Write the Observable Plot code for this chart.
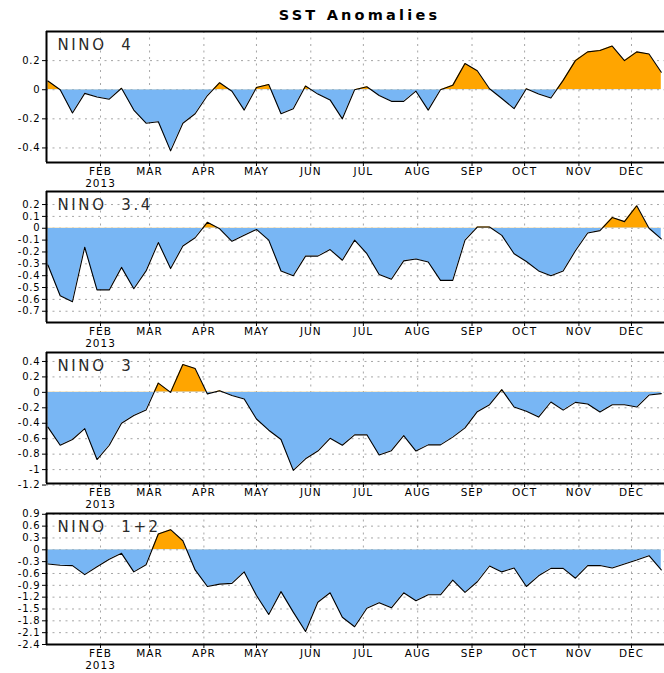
<!DOCTYPE html>
<html>
<head>
<meta charset="utf-8">
<script src="https://cdn.jsdelivr.net/npm/d3@7"></script>
<script src="https://cdn.jsdelivr.net/npm/@observablehq/plot@0.6"></script>
<style>
  html, body { margin: 0; padding: 0; background: #fff; }
  #wrap { position: relative; width: 664px; height: 673px; overflow: hidden; background: #fff; }
  #title { position: absolute; left: 0; width: 719px; top: 6px; text-align: center;
           font-family: "DejaVu Sans", sans-serif; font-weight: bold; font-size: 14.5px;
           letter-spacing: 3.2px; line-height: 18px; color: #000; }
  .panel { position: absolute; left: 0; }
  .panel svg { overflow: visible; background: transparent !important; }
  .panel g[aria-label="y-axis tick label"] text { letter-spacing: 0.8px; }
  .panel g[aria-label="x-axis tick label"] text { letter-spacing: 1px; }
  .panel g.yearlab text { letter-spacing: 1px; }
  .panel g.ninolab text { white-space: pre; letter-spacing: 2.6px; }
</style>
</head>
<body>
<div id="wrap">
  <div id="title">SST Anomalies</div>
</div>
<script>
// ---- data ----
const weeks = [
  "2013-01-02","2013-01-09","2013-01-16","2013-01-23","2013-01-30",
  "2013-02-06","2013-02-13","2013-02-20","2013-02-27",
  "2013-03-06","2013-03-13","2013-03-20","2013-03-27",
  "2013-04-03","2013-04-10","2013-04-17","2013-04-24",
  "2013-05-01","2013-05-08","2013-05-15","2013-05-22","2013-05-29",
  "2013-06-05","2013-06-12","2013-06-19","2013-06-26",
  "2013-07-03","2013-07-10","2013-07-17","2013-07-24","2013-07-31",
  "2013-08-07","2013-08-14","2013-08-21","2013-08-28",
  "2013-09-04","2013-09-11","2013-09-18","2013-09-25",
  "2013-10-02","2013-10-09","2013-10-16","2013-10-23","2013-10-30",
  "2013-11-06","2013-11-13","2013-11-20","2013-11-27",
  "2013-12-04","2013-12-11","2013-12-18"
];
const nino4 = [0.06, 0.0, -0.16, -0.025, -0.05, -0.065, 0.01, -0.14, -0.23, -0.22,
  -0.42, -0.23, -0.165, -0.04, 0.048, -0.01, -0.14, 0.015, 0.036, -0.165,
  -0.13, 0.025, -0.03, -0.07, -0.2, 0.0, 0.02, -0.04, -0.08, -0.08,
  -0.01, -0.14, 0.0, 0.03, 0.18, 0.13, 0.007, -0.06, -0.13, 0.007,
  -0.03, -0.057, 0.064, 0.2, 0.26, 0.27, 0.30, 0.2, 0.26, 0.245, 0.12];
const nino34 = [-0.31, -0.57, -0.62, -0.16, -0.52, -0.52, -0.33, -0.51, -0.36, -0.12,
  -0.34, -0.15, -0.08, 0.05, -0.005, -0.11, -0.06, -0.01, -0.10, -0.36,
  -0.40, -0.235, -0.235, -0.18, -0.27, -0.10, -0.215, -0.39, -0.43, -0.275,
  -0.26, -0.285, -0.44, -0.44, -0.10, 0.01, 0.01, -0.06, -0.215, -0.28,
  -0.36, -0.40, -0.36, -0.19, -0.04, -0.02, 0.09, 0.056, 0.19, 0.0, -0.09];
const nino3 = [-0.45, -0.685, -0.61, -0.47, -0.87, -0.685, -0.40, -0.30, -0.23, 0.12,
  0.0, 0.36, 0.31, -0.02, 0.02, -0.04, -0.085, -0.345, -0.49, -0.61,
  -1.01, -0.86, -0.76, -0.595, -0.685, -0.55, -0.55, -0.81, -0.755, -0.56,
  -0.76, -0.68, -0.68, -0.58, -0.46, -0.25, -0.16, 0.035, -0.19, -0.245,
  -0.32, -0.125, -0.23, -0.13, -0.15, -0.255, -0.16, -0.16, -0.19, -0.035, -0.017];
const nino12 = [-0.36, -0.39, -0.40, -0.63, -0.43, -0.24, -0.09, -0.56, -0.38, 0.40,
  0.51, 0.23, -0.51, -0.93, -0.87, -0.85, -0.56, -1.16, -1.64, -1.06,
  -1.58, -2.07, -1.33, -1.09, -1.71, -1.95, -1.48, -1.34, -1.47, -1.09,
  -1.29, -1.14, -1.14, -0.77, -1.08, -0.81, -0.41, -0.56, -0.46, -0.93,
  -0.66, -0.47, -0.47, -0.72, -0.40, -0.40, -0.46, -0.36, -0.26, -0.15, -0.51];

const ticks4  = [-0.4, -0.2, 0, 0.2];
const ticks34 = [-0.7, -0.6, -0.5, -0.4, -0.3, -0.2, -0.1, 0, 0.1, 0.2];
const ticks3  = [-1.2, -1, -0.8, -0.6, -0.4, -0.2, 0, 0.2, 0.4];
const ticks12 = [-2.4, -2.1, -1.8, -1.5, -1.2, -0.9, -0.6, -0.3, 0, 0.3, 0.6, 0.9];

const monthTicks = ["2013-02-01","2013-03-01","2013-04-01","2013-05-01","2013-06-01",
  "2013-07-01","2013-08-01","2013-09-01","2013-10-01","2013-11-01","2013-12-01"];
const monthLabels = ["FEB","MAR","APR","MAY","JUN","JUL","AUG","SEP","OCT","NOV","DEC"];
const yearLabel = {date: "2013-02-01", text: "2013"};

const panelNames = ["NINO  4", "NINO  3.4", "NINO  3", "NINO  1+2"];
// ---- end data ----

const BLUE = "#78b6f4";
const ORANGE = "#ffa500";
const GRID = "#a6a6a6";
const X0 = new Date(Date.UTC(2013, 0, 1, 4, 30));
const X1 = new Date(Date.UTC(2013, 11, 19, 20, 0));
const monthDates = monthTicks.map(s => new Date(s + "T00:00Z"));
const labelOf = new Map(monthDates.map((d, i) => [+d, monthLabels[i]]));
const fmtY = d => (Math.abs(d) < 1e-9 ? "0" : String(+d.toFixed(2)));

const panels = [
  {name: panelNames[0], values: nino4,  domain: [-0.5, 0.4],    ticks: ticks4,  top: 31},
  {name: panelNames[1], values: nino34, domain: [-0.795, 0.31], ticks: ticks34, top: 190.7},
  {name: panelNames[2], values: nino3,  domain: [-1.18, 0.516], ticks: ticks3,  top: 351.7},
  {name: panelNames[3], values: nino12, domain: [-2.4, 0.92],   ticks: ticks12, top: 512.7}
];

const MT = 4, MB = 28, FH = 131;
const wrap = document.getElementById("wrap");

panels.forEach((p, i) => {
  const data = weeks.map((w, j) => ({date: new Date(w + "T00:00Z"), v: p.values[j]}));
  const chart = Plot.plot({
    width: 664,
    height: FH + MT + MB,
    marginLeft: 46, marginRight: 0, marginTop: MT, marginBottom: MB,
    style: {background: "transparent", fontFamily: "DejaVu Sans, sans-serif", fontSize: "10px", color: "#000", overflow: "visible"},
    x: {type: "utc", domain: [X0, X1]},
    y: {domain: p.domain},
    marks: [
      Plot.ruleY(p.ticks, {y: d => d, stroke: GRID, strokeWidth: 1, strokeDasharray: "2,4.5"}),
      Plot.ruleX(monthDates, {x: d => d, stroke: GRID, strokeWidth: 1, strokeDasharray: "2,4.5"}),
      Plot.areaY(data, {x: "date", y1: 0, y2: "v", fill: ORANGE}),
      Plot.areaY(data, {x: "date", y1: 0, y2: "v", fill: BLUE}),
      Plot.lineY(data, {x: "date", y: "v", stroke: "#000", strokeWidth: 1.1}),
      Plot.axisY(p.ticks, {tickSize: 4, tickPadding: 2, tickFormat: fmtY, label: null, fontSize: 10}),
      Plot.axisX(monthDates, {tickSize: 4, tickPadding: 1, tickFormat: d => labelOf.get(+d), label: null, fontSize: 10.5}),
      Plot.text([yearLabel], {x: d => new Date(d.date + "T00:00Z"), text: "text", frameAnchor: "bottom",
        dy: 21, lineAnchor: "middle", fontSize: 10.5, fill: "#000", className: "yearlab"}),
      Plot.ruleX([X0], {stroke: "#000", strokeWidth: 2}),
      Plot.ruleY([p.domain[0], p.domain[1]], {stroke: "#000", strokeWidth: 2}),
      Plot.text([p.name], {text: d => d, frameAnchor: "top-left", dx: 11, dy: 14,
        textAnchor: "start", lineAnchor: "middle", fontSize: 15, fontWeight: "normal", fill: "#2a2a2a", className: "ninolab"})
    ]
  });
  // split the area into the part above zero (orange) and below zero (blue)
  const y = chart.scale("y");
  const y0 = y.apply(0);
  const H = FH + MT + MB;
  const ns = "http://www.w3.org/2000/svg";
  const defs = document.createElementNS(ns, "defs");
  const mk = (id, yy, hh) => {
    const cp = document.createElementNS(ns, "clipPath");
    cp.setAttribute("id", id);
    const r = document.createElementNS(ns, "rect");
    r.setAttribute("x", 0); r.setAttribute("y", yy);
    r.setAttribute("width", 664); r.setAttribute("height", Math.max(0, hh));
    cp.appendChild(r); defs.appendChild(cp);
  };
  mk("pos" + i, 0, y0);
  mk("neg" + i, y0, H - y0);
  chart.insertBefore(defs, chart.firstChild);
  const areas = chart.querySelectorAll('g[aria-label="area"]');
  if (areas[0]) areas[0].setAttribute("clip-path", `url(#pos${i})`);
  if (areas[1]) areas[1].setAttribute("clip-path", `url(#neg${i})`);

  const div = document.createElement("div");
  div.className = "panel";
  div.style.top = (p.top - MT) + "px";
  div.appendChild(chart);
  wrap.appendChild(div);
});
</script>
</body>
</html>
